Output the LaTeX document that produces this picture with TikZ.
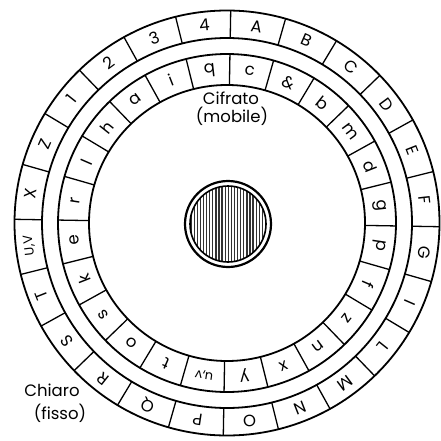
\documentclass[tikz,border=0pt]{standalone}
\usepackage{fontspec}
\setmainfont{Poppins}
\begin{document}
\begin{tikzpicture}[x=1pt,y=1pt,
  ring/.style={line width=1.8pt},
  sep/.style={line width=1.3pt},
  outl/.style={font=\fontsize{16.5}{16.5}\selectfont, inner sep=0pt},
  inl/.style={font=\fontsize{16.5}{16.5}\selectfont, inner sep=0pt},
  lbl/.style={font=\fontsize{16.5}{16.5}\selectfont, inner sep=0pt},
  hatch/.style={line width=1.3pt, black!80}]
\useasboundingbox (0,0) rectangle (441,440);
\coordinate (C) at (227,217);
\coordinate (H) at (228,216);
% rings
\draw[ring] (C) circle (212.5);
\draw[ring] (C) circle (185);
\draw[ring] (C) circle (169);
\draw[ring] (C) circle (138);
% cell separators
\foreach \k in {0,...,23} {
  \draw[sep,shift={(C)}] (\k*15-1:185) -- (\k*15-1:212.5);
  \draw[sep,shift={(C)}] (\k*15-1:138) -- (\k*15-1:169);
}
% outer (fixed) letters
\foreach \t [count=\i from 0] in {A,B,C,D,E,F,G,I,L,M,N,O,P,Q,R,S,T,{\fontsize{13}{13}\selectfont U,V},X,Z,1,2,3,4} {
  \node[outl, rotate={82.5-15*\i-91}] (o\i) at ([shift={(82.5-15*\i-1:199)}]C) {\t};
}
% inner (mobile) letters
\foreach \t [count=\i from 0] in {c,\&,b,m,d,g,p,f,z,n,x,y,{\fontsize{13}{13}\selectfont u,v},t,o,s,k,e,r,l,h,a,i,q} {
  \node[inl, rotate={82.5-15*\i-91}] (n\i) at ([shift={(82.5-15*\i-1:153.5)}]C) {\t};
}
% hub
\draw[line width=2.2pt] (H) circle (43);
\begin{scope}
  \clip (H) circle (38);
  \foreach \x in {-40,-36.9,...,40} {
    \draw[hatch] ([shift={(\x,-45)}]H) -- ([shift={(\x,45)}]H);
  }
\end{scope}
\draw[line width=1.6pt] (H) circle (38);
% labels
\node[lbl] (cif) at (231,342) {Cifrato};
\node[lbl] (mob) at (232,324) {(mobile)};
\node[lbl] (chi) at (52,50) {Chiaro};
\node[lbl] (fis) at (60,27) {(fisso)};
\end{tikzpicture}
\end{document}
